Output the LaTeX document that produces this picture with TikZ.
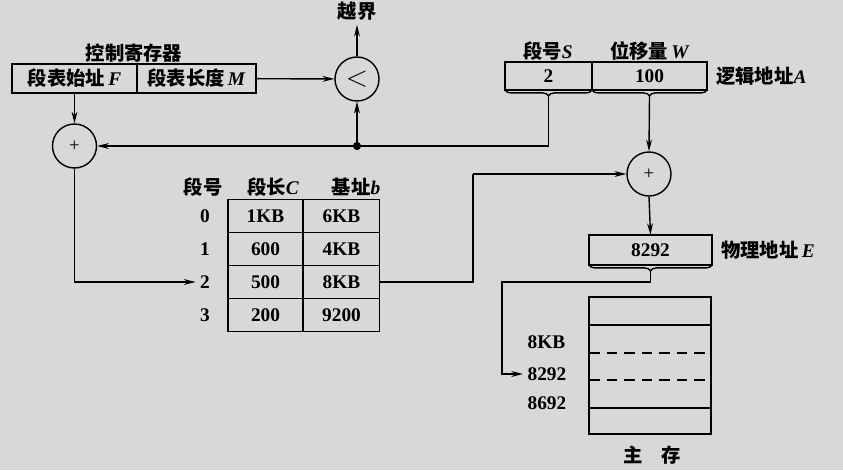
\documentclass[tikz,border=0pt]{standalone}
\usepackage{fontspec}
\setmainfont{Liberation Serif}
\newfontfamily\cjk[Scale=1.0]{Noto Sans CJK SC}
\usetikzlibrary{positioning,arrows.meta,decorations.pathreplacing}
\newcommand{\zh}[1]{{\cjk\bfseries #1}}
\definecolor{paper}{RGB}{216,216,214}

\begin{document}
\begin{tikzpicture}[x=0.03cm, y=-0.03cm, line width=1.2pt,
        >={Stealth[length=10pt,width=5pt]},
        every node/.style={font=\fontsize{16.5}{19}\selectfont\bfseries},
        field/.style={draw, rectangle, outer sep=0pt, inner sep=0pt},
        adder/.style={draw, circle, minimum size=1.32cm, inner sep=0pt},
        cell/.style={draw, rectangle, outer sep=0pt, inner sep=0pt, minimum height=0.99cm},
        tray/.style={decorate, decoration={brace, mirror, amplitude=5pt}}]
        \useasboundingbox (0,0) rectangle (843,470);
        \fill[paper] (0,0) rectangle (843,470);

        % control register
        \node[field, minimum width=3.75cm, minimum height=0.87cm] (F) at (74.5,78.5) {\zh{段表始址}\,\textit{F}};
        \node[field, minimum width=3.57cm, minimum height=0.87cm, right=0pt of F] (M) {\zh{段表长度}\,\textit{M}};
        \node (ctrl) at (134,53) {\zh{控制寄存器}};

        % compare
        \node[adder, font=\fontsize{24}{26}\selectfont] (cmp) at (357,79) {$<$};
        \node (yue) at (357,11) {\zh{越界}};
        \draw[->] (M) -- (cmp);
        \draw[->] (cmp.north) -- (yue.south);

        % left adder
        \node[adder, font=\fontsize{16}{18}\selectfont] (add1) at (74.5,146) {+};
        \draw[->] (F.south) -- (add1.north);

        % logical address
        \node[field, minimum width=2.61cm, minimum height=0.84cm] (S) at (548.5,76) {2};
        \node[field, minimum width=3.45cm, minimum height=0.84cm, right=0pt of S] (W) {100};
        \node (slbl) at (548,51) {\zh{段号}\textit{S}};
        \node (wlbl) at (650,51) {\zh{位移量}\,\textit{W}};
        \node[right=4pt of W] (logic) {\zh{逻辑地址}\textit{A}};
        \draw[tray] (S.south west) -- (S.south east);
        \draw[tray] (W.south west) -- (W.south east);
        \coordinate (sTip) at ([yshift=-5pt]S.south);
        \coordinate (wTip) at ([yshift=-5pt]W.south);

        % segment table
        \node (hnum) at (203,187) {\zh{段号}};
        \node (hlen) at (273,187) {\zh{段长}\textit{C}};
        \node (hbase) at (356,187) {\zh{基址}\textit{b}};
        \foreach \i/\len/\base in {0/1KB/6KB, 1/600/4KB, 2/500/8KB, 3/200/9200} {
            \node (n\i) at (205,{216+33*\i}) {\i};
            \node[cell, minimum width=2.25cm] (len\i) at (265.5,{216+33*\i}) {\len};
            \node[cell, minimum width=2.28cm] (base\i) at (341.5,{216+33*\i}) {\base};
        }

        % right adder and physical address
        \node[adder, font=\fontsize{16}{18}\selectfont] (add2) at (649,174) {+};
        \node[field, minimum width=3.69cm, minimum height=0.9cm] (phys) at (650.5,250) {8292};
        \node[right=4pt of phys] (plbl) {\zh{物理地址}\,\textit{E}};
        \draw[tray] (phys.south west) -- (phys.south east);
        \coordinate (pTip) at ([yshift=-5pt]phys.south);

        \draw[->] (sTip) |- (add1.east);
        \fill (cmp.south |- add1.east) circle[radius=3.5pt];
        \draw[->] (cmp.south |- add1.east) -- (cmp.south);
        \draw[->] (add1.south) |- (n2.west);
        \coordinate (bend) at (473,174);
        \draw (base2.east) -| (bend);
        \draw[->] (bend) -- (add2.west);
        \draw[->] (wTip) -- (add2.north);
        \draw[->] (add2.south) -- (phys.north);

        % main memory
        \node[field, minimum width=3.66cm, minimum height=4.11cm] (mem) at (650,365.5) {};
        \draw (mem.west |- 0,325) -- (mem.east |- 0,325);
        \draw[dashed, dash pattern=on 9pt off 6pt] (mem.west |- 0,353) -- (mem.east |- 0,353);
        \draw[dashed, dash pattern=on 9pt off 6pt] (mem.west |- 0,380) -- (mem.east |- 0,380);
        \draw (mem.west |- 0,408) -- (mem.east |- 0,408);
        \node[anchor=west] (m1) at (523,342) {8KB};
        \node[anchor=west] (m2) at (523,374) {8292};
        \node[anchor=west] (m3) at (523,403) {8692};
        \node (mainmem) at (652,455) {\zh{主\quad 存}};
        \coordinate (turn) at (502,282);
        \draw[->] (pTip) |- (turn) |- (m2.west);
    \end{tikzpicture}
\end{document}
